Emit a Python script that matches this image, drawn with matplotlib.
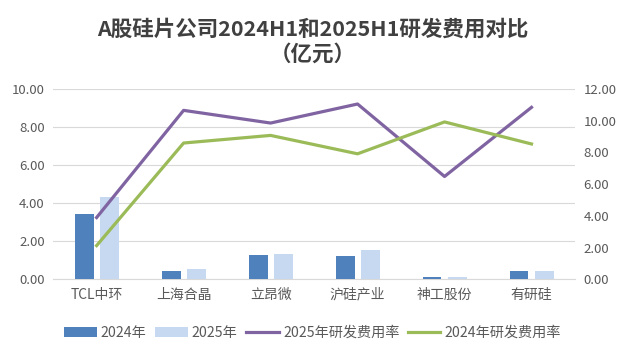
import matplotlib.pyplot as plt
import numpy as np

plt.rcParams['font.family'] = ['Noto Sans CJK SC', 'DejaVu Sans']

companies = ["TCL中环", "上海合晶", "立昂微", "沪硅产业", "神工股份", "有研硅"]
rd_2024 = [3.43, 0.44, 1.28, 1.23, 0.10, 0.44]
rd_2025 = [4.32, 0.54, 1.33, 1.54, 0.10, 0.44]
rate_2025 = [3.89, 10.65, 9.85, 11.05, 6.48, 10.84]
rate_2024 = [2.12, 8.59, 9.07, 7.91, 9.92, 8.53]

txt = "#595959"
fig = plt.figure(figsize=(6.25, 3.53), dpi=100)
ax = fig.add_axes([0.085, 0.209, 0.835, 0.539])
ax2 = ax.twinx()

x = np.arange(len(companies))
w = 0.218
b1 = ax.bar(x - 0.144, rd_2024, w, color="#4f81bd", label="2024年", zorder=3)
b2 = ax.bar(x + 0.144, rd_2025, w, color="#c6d9f0", label="2025年", zorder=3)
l1, = ax2.plot(x, rate_2025, color="#8064a2", lw=2.3, label="2025年研发费用率")
l2, = ax2.plot(x, rate_2024, color="#9bbb59", lw=2.3, label="2024年研发费用率")

ax.set_xlim(-0.5, 5.5)
ax.set_ylim(0, 10)
ax2.set_ylim(0, 12)
ax.set_yticks(np.arange(0, 10.1, 2))
ax.set_yticklabels([f"{v:.2f}" for v in np.arange(0, 10.1, 2)])
ax2.set_yticks(np.arange(0, 12.1, 2))
ax2.set_yticklabels([f"{v:.2f}" for v in np.arange(0, 12.1, 2)])
ax.set_xticks(x)
ax.set_xticklabels(companies, fontsize=10, color="#404040")
ax.grid(axis="y", color="#d9d9d9", lw=0.8, zorder=0)
for a in (ax, ax2):
    for s in a.spines.values():
        s.set_visible(False)
    a.tick_params(length=0, labelsize=9.5, labelcolor=txt)
ax.spines["bottom"].set_visible(True)
ax.spines["bottom"].set_color("#d9d9d9")
ax.tick_params(axis="x", pad=6, labelsize=10)
ax.tick_params(axis="y", pad=6)
ax2.tick_params(axis="y", pad=6)

fig.text(0.5, 0.918, "A股硅片公司2024H1和2025H1研发费用对比", ha="center", va="center",
         fontsize=15.5, fontweight="bold", color="#404040")
fig.text(0.5, 0.846, "（亿元）", ha="center", va="center",
         fontsize=15.5, fontweight="bold", color="#404040")

fig.legend(handles=[b1, b2, l1, l2], loc="center", bbox_to_anchor=(0.5, 0.057), ncol=4,
           frameon=False, fontsize=10.2, handlelength=2.3, handletextpad=0.3,
           columnspacing=0.6, labelcolor=txt)

fig.savefig("out.png", dpi=100)
